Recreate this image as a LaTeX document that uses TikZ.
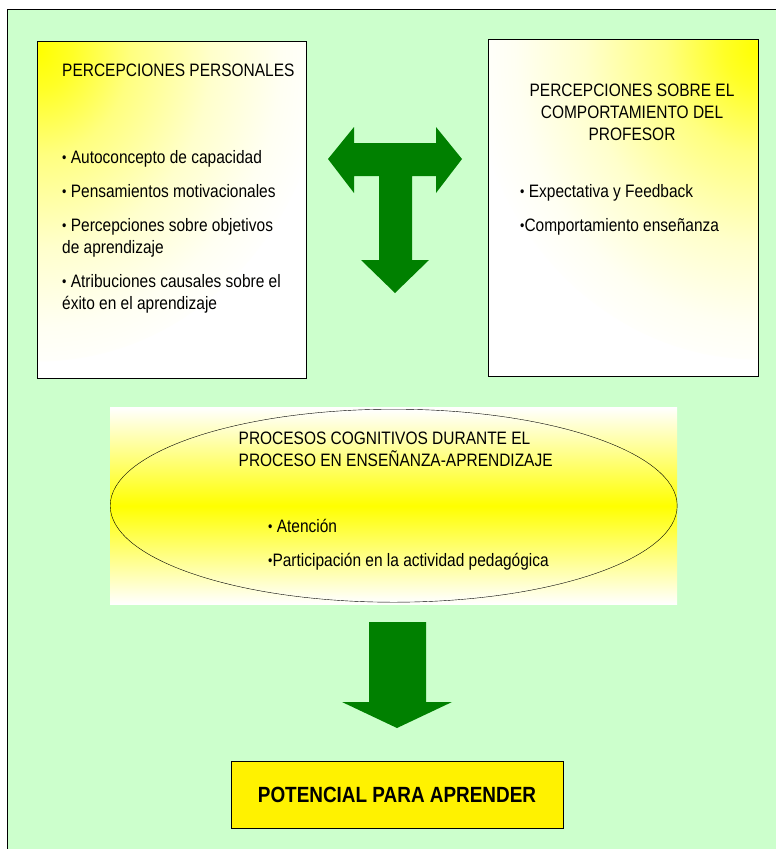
\documentclass[tikz,border=0pt]{standalone}
\usepackage{fontspec}
\setmainfont{Liberation Sans}[FakeStretch=0.86]
\usetikzlibrary{positioning,shapes.geometric}

\definecolor{fondo}{HTML}{CCFFCC}
\definecolor{flecha}{HTML}{008000}

\pgfdeclareradialshading{brillo}{\pgforigin}{color(0bp)=(yellow); color(3bp)=(yellow!85!white); color(8bp)=(yellow!50!white); color(15bp)=(yellow!20!white); color(21bp)=(yellow!5!white); color(25bp)=(white); color(50bp)=(white)}

\tikzstyle{panel} = [rectangle, draw=black, line width=1pt, inner sep=0pt, anchor=north west, fill=white]
\tikzstyle{txt} = [inner sep=0pt, font=\fontsize{18}{22}\selectfont, text=black]
\tikzstyle{lista} = [txt, align=left, anchor=north west]

\newcommand{\bul}{\raisebox{0.06em}{\scalebox{0.8}{•}}}

\begin{document}
\begin{tikzpicture}[x=1pt,y=-1pt]
\useasboundingbox (0,0) rectangle (776,849);
\clip (0,0) rectangle (776,849);
\fill[white] (0,0) rectangle (776,849);
\draw[fill=fondo, line width=1pt] (7,9) rectangle (800,870);

% percepciones personales
\node[panel, minimum width=269pt, minimum height=337pt,
  path picture={\shade[shading=brillo] (path picture bounding box.north west) ellipse (290pt and 320pt);}] (personal) at (37,41) {};
\node[txt, anchor=base west] (personalTitle) at (62,76) {PERCEPCIONES PERSONALES};
\node[lista] (personalList) at (62,150) {\bul\ Autoconcepto de capacidad\\[12pt]
  \bul\ Pensamientos motivacionales\\[12pt]
  \bul\ Percepciones sobre objetivos\\de aprendizaje\\[12pt]
  \bul\ Atribuciones causales sobre el\\éxito en el aprendizaje};

% percepciones sobre el profesor
\node[panel, minimum width=270pt, minimum height=337pt,
  path picture={\shade[shading=brillo] (path picture bounding box.north east) ellipse (290pt and 320pt);}] (teacher) at (488,39) {};
\node[txt, align=center, anchor=north] (teacherTitle) at (632,84) {PERCEPCIONES SOBRE EL\\COMPORTAMIENTO DEL\\PROFESOR};
\node[lista] (teacherList) at (520,184) {\bul\ Expectativa y Feedback\\[12pt]
  \bul Comportamiento enseñanza};

% flecha en T
\fill[flecha] (328,159) -- (354,127) -- (354,143) -- (436,143) -- (436,127) -- (462,159)
  -- (436,193) -- (436,176) -- (412,176) -- (412,260) -- (429,260) -- (395,293)
  -- (361,260) -- (379,260) -- (379,176) -- (354,176) -- (354,193) -- cycle;

% procesos cognitivos
\node[inner sep=0pt, anchor=north west, minimum width=567pt, minimum height=197pt,
  top color=white, bottom color=white, middle color=yellow] (cognitiveBack) at (110,407) {};
\node[ellipse, draw=black, inner sep=0pt, minimum width=567pt, minimum height=193pt,
  top color=white, bottom color=white, middle color=yellow] (cognitive) at (cognitiveBack.center) {};
\node[lista] (cognitiveTitle) at (238.5,432) {PROCESOS COGNITIVOS DURANTE EL\\PROCESO EN ENSEÑANZA-APRENDIZAJE};
\node[lista] (cognitiveList) at (268,519) {\bul\ Atención\\[12pt]
  \bul Participación en la actividad pedagógica};

% flecha abajo
\fill[flecha] (369,622) -- (426,622) -- (426,702) -- (452,702) -- (397,728)
  -- (342,702) -- (369,702) -- cycle;

\node[draw=black, line width=1pt, fill=yellow, minimum width=332pt, minimum height=67pt,
  font=\bfseries\fontsize{22}{22}\selectfont] (potential) at (397,794.5) {POTENCIAL PARA APRENDER};

\end{tikzpicture}
\end{document}
